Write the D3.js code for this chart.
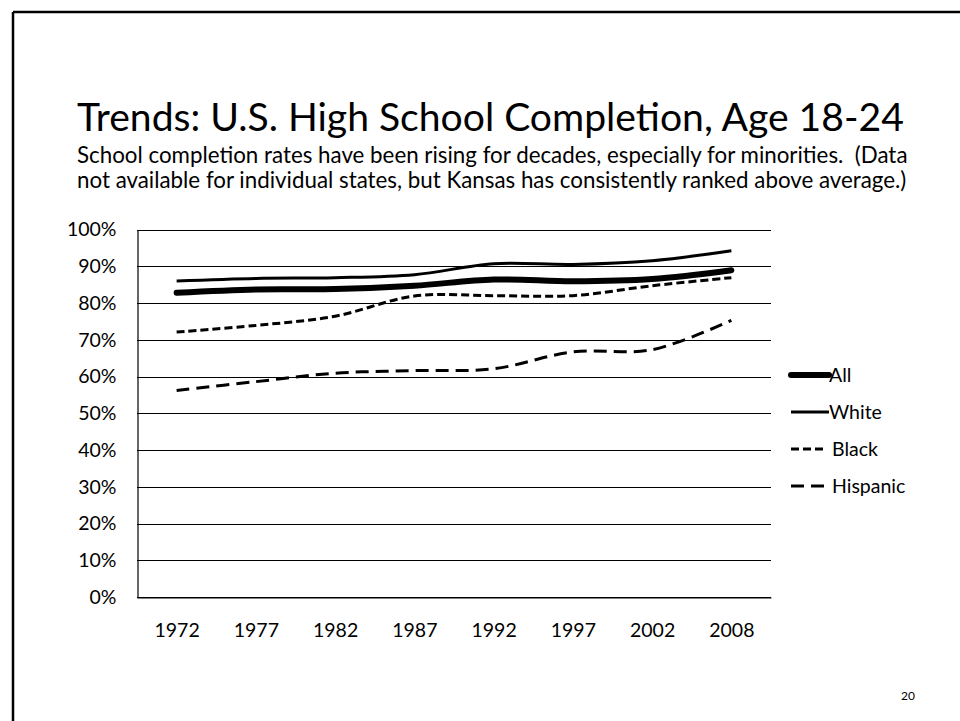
<!DOCTYPE html>
<html>
<head>
<meta charset="utf-8">
<script src="https://cdn.jsdelivr.net/npm/d3@7"></script>
<style>
html,body{margin:0;padding:0;background:#fff;}
svg{display:block;}
text{font-family:"Lato","Open Sans",sans-serif;fill:#000;white-space:pre;}
</style>
</head>
<body>
<svg id="chart" width="960" height="721"></svg>
<script>
// ---- data ----
const years = ["1972","1977","1982","1987","1992","1997","2002","2008"];
const seriesNames = ["All","White","Black","Hispanic"];
const allValues = [82.8, 83.7, 83.8, 84.7, 86.4, 85.9, 86.5, 88.9];
const whiteValues = [86.0, 86.7, 86.9, 87.7, 90.7, 90.5, 91.5, 94.2];
const blackValues = [72.1, 73.9, 76.4, 81.9, 82.0, 82.0, 84.7, 86.9];
const hispanicValues = [56.2, 58.6, 60.9, 61.6, 62.1, 66.7, 67.3, 75.3];
const yTickValues = [0,10,20,30,40,50,60,70,80,90,100];
const titleText = "Trends: U.S. High School Completion, Age 18-24";
const subtitleLines = [
  "School completion rates have been rising for decades, especially for minorities.  (Data",
  "not available for individual states, but Kansas has consistently ranked above average.)"
];
const pageNumber = "20";

// ---- styles ----
const styles = {
  All:      {width: 6,   dash: null},
  White:    {width: 3,   dash: null},
  Black:    {width: 3,   dash: "8,4"},
  Hispanic: {width: 3,   dash: "13,7"}
};
const valuesByName = {All: allValues, White: whiteValues, Black: blackValues, Hispanic: hispanicValues};

const svg = d3.select("#chart");

function fit(sel, target) {
  const w = sel.node().getComputedTextLength();
  const fs = parseFloat(sel.attr("font-size"));
  sel.attr("font-size", fs * target / w);
}

// slide frame
svg.append("line").attr("x1", 13).attr("x2", 960).attr("y1", 12).attr("y2", 12)
  .attr("stroke", "#000").attr("stroke-width", 2.5);
svg.append("line").attr("x1", 13).attr("x2", 13).attr("y1", 12).attr("y2", 721)
  .attr("stroke", "#000").attr("stroke-width", 2.5);

// title & subtitle
const t = svg.append("text").attr("x", 77).attr("y", 131).attr("font-size", 40).text(titleText);
fit(t, 827);
const s1 = svg.append("text").attr("x", 77).attr("y", 163).attr("font-size", 20).text(subtitleLines[0]);
fit(s1, 831);
const s2 = svg.append("text").attr("x", 77).attr("y", 188).attr("font-size", 20).text(subtitleLines[1]);
fit(s2, 830);

// scales
const x = d3.scalePoint().domain(years).range([137, 771]).padding(0.5);
const y = d3.scaleLinear().domain([0, 100]).range([597, 229.5]);

// gridlines
const g = svg.append("g");
g.selectAll("line.grid").data(yTickValues).join("line")
  .attr("class", "grid")
  .attr("x1", 137).attr("x2", 771)
  .attr("y1", d => Math.round(y(d)) + 0.5).attr("y2", d => Math.round(y(d)) + 0.5)
  .attr("stroke", "#000").attr("stroke-width", 1.2);

// value axis
const yAxis = d3.axisLeft(y).tickValues(yTickValues).tickSize(0).tickPadding(21)
  .tickFormat(d => d + "%");
const ya = svg.append("g").attr("transform", "translate(137.5,0)").call(yAxis);
ya.select(".domain").attr("stroke", "#000").attr("stroke-width", 1.2);
ya.selectAll("text").attr("font-size", 19.5).attr("font-family", "Lato").attr("fill", "#000");

// category axis
const xAxis = d3.axisBottom(x).tickSize(0).tickPadding(26);
const xa = svg.append("g").attr("transform", "translate(0,597.5)").call(xAxis);
xa.select(".domain").attr("stroke", "#000").attr("stroke-width", 1.2);
xa.selectAll("text").attr("font-size", 19.5).attr("font-family", "Lato").attr("fill", "#000");

// lines
const line = d3.line()
  .x((d, i) => x(years[i]))
  .y(d => y(d))
  .curve(d3.curveCatmullRom.alpha(0.5));

const drawOrder = ["Hispanic", "Black", "White", "All"];
svg.append("g").selectAll("path").data(drawOrder).join("path")
  .attr("d", n => line(valuesByName[n]))
  .attr("fill", "none")
  .attr("stroke", "#000")
  .attr("stroke-width", n => styles[n].width)
  .attr("stroke-dasharray", n => styles[n].dash)
  .attr("stroke-linecap", n => n === "All" ? "round" : "butt")
  .attr("stroke-linejoin", "round");

// legend
const legendY = d3.scalePoint().domain(seriesNames).range([375, 486]);
const lg = svg.append("g").selectAll("g").data(seriesNames).join("g")
  .attr("transform", n => `translate(0,${legendY(n)})`);
lg.append("line")
  .attr("x1", 791).attr("x2", n => (styles[n].dash ? 824 : 829))
  .attr("y1", 0).attr("y2", 0)
  .attr("stroke", "#000")
  .attr("stroke-width", n => styles[n].width)
  .attr("stroke-dasharray", n => styles[n].dash)
  .attr("stroke-linecap", n => n === "All" ? "round" : "butt");
lg.append("text")
  .attr("x", n => (styles[n].dash ? 832 : 829))
  .attr("y", 0).attr("dy", "0.35em")
  .attr("font-size", 19.5)
  .text(n => n);

// page number
svg.append("text").attr("x", 908).attr("y", 700).attr("text-anchor", "middle")
  .attr("font-size", 12).text(pageNumber);
</script>
</body>
</html>
